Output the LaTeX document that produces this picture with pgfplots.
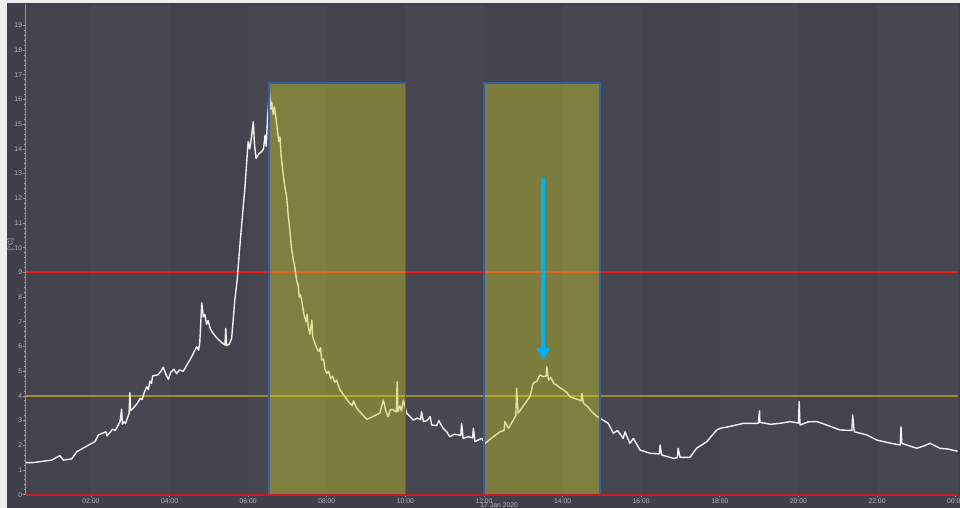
\documentclass[border=0pt]{standalone}
\usepackage{fontspec}
\setmainfont{Liberation Sans}
\usepackage{pgfplots}
\pgfplotsset{compat=1.18}
\usetikzlibrary{arrows.meta}
\definecolor{bg}{RGB}{64,64,74}
\definecolor{bandA}{RGB}{67,67,78}
\definecolor{bandB}{RGB}{71,71,82}
\definecolor{framegray}{RGB}{238,238,238}
\definecolor{axisgray}{RGB}{150,150,158}
\definecolor{labelgray}{RGB}{185,185,190}
\definecolor{limred}{RGB}{235,25,25}
\definecolor{limyellow}{RGB}{160,140,45}
\definecolor{boxfill}{RGB}{205,205,37}
\definecolor{boxedge}{RGB}{55,95,175}
\definecolor{arrowblue}{RGB}{0,176,240}
\definecolor{baseRed}{RGB}{195,30,40}
\definecolor{curve}{RGB}{242,242,242}
\begin{document}
\begin{tikzpicture}
\fill[bg] (0pt,0pt) rectangle (480pt,254pt);
\useasboundingbox (0pt,0pt) rectangle (480pt,254pt);
\fill[framegray] (0pt,252.5pt) rectangle (480pt,254pt);
\fill[framegray] (0pt,0pt) rectangle (3.5pt,254pt);
\begin{axis}[
  at={(12.85pt,6.65pt)}, anchor=south west,
  scale only axis, width=466.15pt, height=245.35pt,
  xmin=0.34, xmax=24.06, ymin=0, ymax=19.87,
  clip=false,
  axis lines*=left,
  axis line style={draw=axisgray, line width=0.5pt},
  xtick={2,4,...,24},
  xticklabels={02:00,04:00,06:00,08:00,10:00,12:00,14:00,16:00,18:00,20:00,22:00,00:00},
  ytick={0,1,...,19},
  minor x tick num=3,
  minor y tick num=4,
  tick align=outside,
  major tick length=1.3pt,
  minor tick length=0.8pt,
  tick style={draw=axisgray, line width=0.4pt},
  /pgf/number format/assume math mode=true,
  ticklabel style={font=\fontsize{3.4}{4}\selectfont, text=labelgray},
  xticklabel style={yshift=2.9pt},
  yticklabel style={xshift=3pt},
]
% background bands every two hours
\fill[bandA] (axis cs:0.34,0) rectangle (axis cs:2,19.87);
\fill[bandB] (axis cs:2,0) rectangle (axis cs:4,19.87);
\fill[bandA] (axis cs:4,0) rectangle (axis cs:6,19.87);
\fill[bandB] (axis cs:6,0) rectangle (axis cs:8,19.87);
\fill[bandA] (axis cs:8,0) rectangle (axis cs:10,19.87);
\fill[bandB] (axis cs:10,0) rectangle (axis cs:12,19.87);
\fill[bandA] (axis cs:12,0) rectangle (axis cs:14,19.87);
\fill[bandB] (axis cs:14,0) rectangle (axis cs:16,19.87);
\fill[bandA] (axis cs:16,0) rectangle (axis cs:18,19.87);
\fill[bandB] (axis cs:18,0) rectangle (axis cs:20,19.87);
\fill[bandA] (axis cs:20,0) rectangle (axis cs:22,19.87);
\fill[bandB] (axis cs:22,0) rectangle (axis cs:24.06,19.87);
% limit lines
\addplot[limred, line width=1pt] coordinates {(0.34,9) (24.06,9)};
\addplot[limyellow, line width=1pt] coordinates {(0.34,4) (24.06,4)};
% temperature curve
\addplot[curve, line width=0.7pt, line join=round] coordinates {
(0.34,1.30) (0.53,1.30) (1.00,1.40) (1.21,1.58) (1.30,1.40) (1.51,1.45)
(1.64,1.74) (2.10,2.15) (2.19,2.42) (2.38,2.55) (2.41,2.38) (2.55,2.65)
(2.62,2.60) (2.74,2.96) (2.78,3.46) (2.80,2.85) (2.84,2.95) (2.88,2.88)
(2.97,3.30) (2.99,4.13) (3.01,3.40) (3.10,3.55) (3.18,3.70) (3.25,3.90)
(3.30,3.85) (3.36,4.15) (3.42,4.37) (3.46,4.25) (3.50,4.60) (3.54,4.50)
(3.57,4.81) (3.70,4.85) (3.78,5.00) (3.84,5.16) (3.90,4.90) (3.97,4.67)
(4.03,4.95) (4.11,5.08) (4.18,4.90) (4.25,5.05) (4.35,5.00) (4.44,5.25)
(4.55,5.55) (4.69,5.99) (4.74,5.85) (4.77,6.19) (4.82,7.77) (4.86,7.20)
(4.90,7.30) (4.94,6.90) (4.98,7.05) (5.04,6.70) (5.11,6.53) (5.20,6.35)
(5.30,6.20) (5.41,6.06) (5.43,6.74) (5.45,6.03) (5.52,6.10) (5.58,6.33)
(5.66,7.88) (5.72,8.69) (5.80,10.3) (5.86,11.4) (5.92,12.47) (5.96,13.4)
(6.00,14.29) (6.04,14.0) (6.09,14.56) (6.13,15.10) (6.16,14.2) (6.20,13.62)
(6.27,13.80) (6.34,13.89) (6.39,14.00) (6.43,14.56) (6.46,14.10) (6.49,15.17)
(6.54,16.30) (6.58,15.60) (6.60,15.90) (6.64,15.40) (6.67,15.70) (6.71,15.20)
(6.74,14.80) (6.78,14.30) (6.81,14.49) (6.84,13.70) (6.89,13.00) (6.93,12.50)
(6.98,12.06) (7.02,11.30) (7.06,10.72) (7.10,10.00) (7.15,9.50) (7.19,9.20)
(7.23,8.69) (7.27,8.50) (7.30,8.00) (7.33,8.10) (7.36,7.88) (7.42,7.30)
(7.47,7.00) (7.50,7.30) (7.53,6.80) (7.57,6.50) (7.62,7.07) (7.64,6.40)
(7.70,6.13) (7.75,5.90) (7.80,5.80) (7.84,5.95) (7.87,5.45) (7.92,5.50)
(7.95,5.10) (8.00,4.91) (8.05,5.00) (8.10,4.70) (8.15,4.80) (8.20,4.55)
(8.25,4.64) (8.30,4.40) (8.34,4.24) (8.45,4.00) (8.55,3.77) (8.65,3.60)
(8.68,3.80) (8.76,3.50) (9.02,3.05) (9.35,3.30) (9.44,3.83) (9.50,3.40)
(9.56,3.16) (9.62,3.45) (9.69,3.43) (9.77,3.35) (9.79,4.57) (9.81,3.36)
(9.86,3.60) (9.90,3.40) (9.95,3.83) (10.03,3.30) (10.10,3.20) (10.20,3.02)
(10.30,3.10) (10.39,3.05) (10.41,3.36) (10.46,2.96) (10.55,3.00) (10.63,3.16)
(10.67,2.82) (10.80,2.80) (10.85,3.00) (10.96,2.69) (11.05,2.55) (11.13,2.35)
(11.25,2.45) (11.41,2.40) (11.43,2.89) (11.47,2.28) (11.60,2.35) (11.71,2.30)
(11.73,2.69) (11.77,2.15) (11.94,2.28) (12.03,2.08) (12.20,2.30) (12.41,2.55)
(12.51,2.60) (12.53,2.96) (12.62,2.69) (12.72,2.95) (12.81,3.20) (12.83,4.31)
(12.87,3.30) (13.00,3.60) (13.17,3.97) (13.25,4.51) (13.35,4.60) (13.42,4.85)
(13.51,4.78) (13.58,4.80) (13.60,5.18) (13.64,4.64) (13.70,4.75) (13.78,4.50)
(13.85,4.44) (13.92,4.35) (14.02,4.24) (14.10,4.15) (14.19,3.97) (14.30,3.90)
(14.40,3.85) (14.47,3.80) (14.49,4.11) (14.53,3.70) (14.65,3.55) (14.74,3.36)
(14.85,3.20) (14.95,3.09) (15.05,3.00) (15.16,2.89) (15.29,2.49) (15.40,2.60)
(15.54,2.28) (15.59,2.55) (15.71,2.08) (15.80,2.28) (15.97,1.81) (16.22,1.68)
(16.46,1.65) (16.48,2.01) (16.52,1.61) (16.82,1.47) (16.92,1.50) (16.94,1.88)
(16.99,1.51) (17.24,1.51) (17.41,1.88) (17.67,2.15) (17.92,2.62) (18.01,2.69)
(18.22,2.75) (18.60,2.89) (18.98,2.89) (19.01,3.40) (19.02,2.93) (19.30,2.85)
(19.53,2.89) (19.79,2.96) (20.00,2.90) (20.02,3.77) (20.04,2.82) (20.25,2.95)
(20.47,2.96) (20.72,2.82) (21.06,2.62) (21.36,2.60) (21.38,3.23) (21.42,2.55)
(21.74,2.42) (22.00,2.21) (22.30,2.10) (22.59,2.01) (22.61,2.75) (22.63,2.08)
(23.01,1.88) (23.20,1.98) (23.35,2.08) (23.60,1.88) (23.80,1.85) (24.05,1.76)
};
% highlighted windows
\draw[boxedge, line width=0.6pt, fill=boxfill, fill opacity=0.42]
  (axis cs:6.53,0) rectangle (axis cs:10.0,16.67);
\draw[boxedge, line width=0.6pt, fill=boxfill, fill opacity=0.42]
  (axis cs:12.0,0) rectangle (axis cs:14.95,16.67);
% arrow
\draw[arrowblue, line width=2.1pt, -{Triangle[width=6.5pt,length=6pt]}]
  (axis cs:13.51,12.81) -- (axis cs:13.51,5.45);
% base line
\addplot[baseRed, line width=0.9pt] coordinates {(0.34,0) (24.06,0)};
% labels
\node[rotate=90, font=\fontsize{3.4}{4}\selectfont, text=labelgray]
  at (axis description cs:-0.016,0.51) {[°C]};
\node[anchor=north west, font=\fontsize{3.4}{4}\selectfont, text=labelgray, inner sep=0pt]
  at (axis cs:11.9,0) [yshift=-3.8pt] {17 Jan 2020};
\end{axis}
\end{tikzpicture}
\end{document}
